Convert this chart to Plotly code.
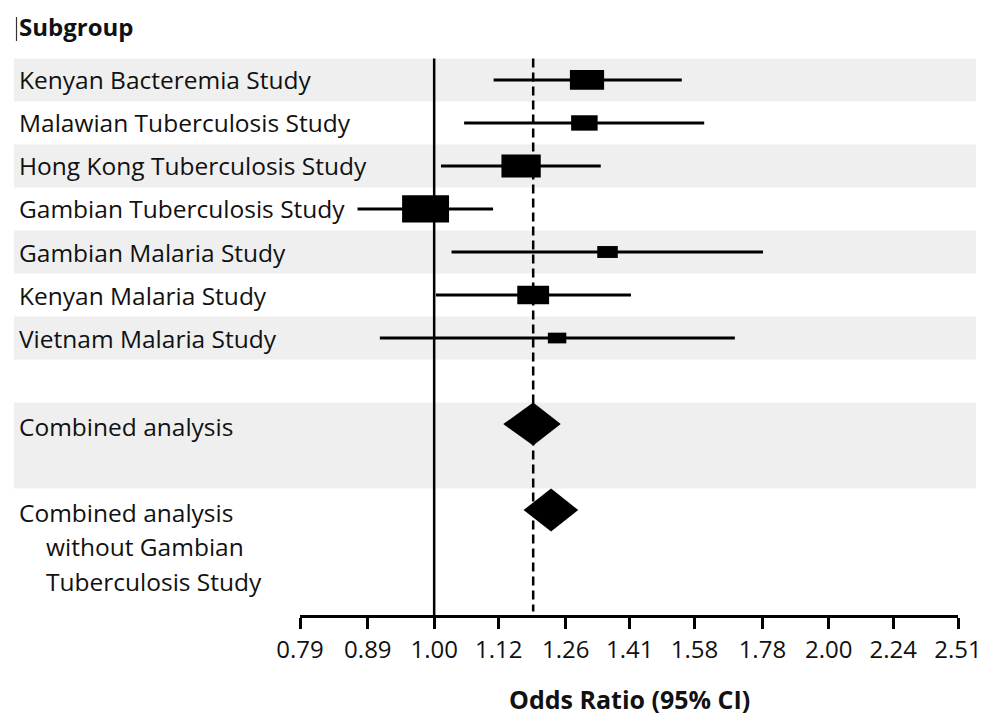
import numpy as np
import plotly.graph_objects as go

# ---------------- data ----------------
studies = [
    "Kenyan Bacteremia Study",
    "Malawian Tuberculosis Study",
    "Hong Kong Tuberculosis Study",
    "Gambian Tuberculosis Study",
    "Gambian Malaria Study",
    "Kenyan Malaria Study",
    "Vietnam Malaria Study",
]
odds_ratio = [1.308, 1.302, 1.165, 0.985, 1.356, 1.190, 1.241]
ci_low = [1.110, 1.054, 1.012, 0.874, 1.031, 1.003, 0.909]
ci_high = [1.545, 1.607, 1.340, 1.109, 1.782, 1.413, 1.696]
weights = [15.8, 9.5, 20.9, 29.8, 5.7, 13.7, 4.6]  # relative study weight (%)

pooled_labels = [
    "Combined analysis",
    "Combined analysis<br>without Gambian<br>Tuberculosis Study",
]
pooled_or = [1.190, 1.228]
pooled_low = [1.129, 1.170]
pooled_high = [1.249, 1.288]

tick_values = [0.79, 0.89, 1.00, 1.12, 1.26, 1.41, 1.58, 1.78, 2.00, 2.24, 2.51]
tick_labels = ["0.79", "0.89", "1.00", "1.12", "1.26", "1.41", "1.58", "1.78", "2.00", "2.24", "2.51"]

header = "Subgroup"
x_title = "Odds Ratio (95% CI)"

# ---------------- layout geometry (page pixels) ----------------
PAGE_W, PAGE_H = 989, 717
OFF = 8                 # default body margin of the html page
W, H = PAGE_W - OFF, PAGE_H - OFF
ROW_PX = 43.05          # pixel height of one row
FIRST_ROW_PX = 80.0     # page pixel centre of first row
AXIS_PX = 615.5         # page pixel of plot-area bottom (axis line)
X_LEFT_PX, X_RIGHT_PX = 300.0, 958.0
LABEL_X_PX = 17.0
BAND_LEFT_PX = 14.0
BAND_RIGHT_PX = 976.0
PLOT_H = AXIS_PX - OFF


def px_x(px):
    return (px - OFF) / W


def px_ypaper(py):
    return 1 - (py - OFF) / PLOT_H


x_range = [np.log10(tick_values[0]), np.log10(tick_values[-1])]
px_per_decade = (X_RIGHT_PX - X_LEFT_PX) / (x_range[1] - x_range[0])

y_top = (OFF - FIRST_ROW_PX) / ROW_PX
y_bottom = (AXIS_PX - FIRST_ROW_PX) / ROW_PX

study_y = list(range(len(studies)))
pooled_y = [len(studies) + 1, len(studies) + 3]

BLACK = "#000000"
TEXT = "#111111"
BAND = "#efefef"
SANS = "Open Sans, Noto Sans, sans-serif"
LABEL_FONT = dict(family=SANS, size=24.5, color=TEXT)

fig = go.Figure()

# reference line at OR = 1
fig.add_trace(go.Scatter(
    x=[1.0, 1.0], y=[-0.5, y_bottom], mode="lines",
    line=dict(color=BLACK, width=2.5), hoverinfo="skip", showlegend=False))

# dashed line at combined OR
fig.add_trace(go.Scatter(
    x=[pooled_or[0], pooled_or[0]], y=[-0.5, y_bottom - 0.08], mode="lines",
    line=dict(color=BLACK, width=2.5, dash="9px,5px"), hoverinfo="skip", showlegend=False))

# confidence-interval lines
cx, cy = [], []
for lo, hi, yy in zip(ci_low, ci_high, study_y):
    cx += [lo, hi, None]
    cy += [yy, yy, None]
fig.add_trace(go.Scatter(
    x=cx, y=cy, mode="lines", line=dict(color=BLACK, width=3),
    hoverinfo="skip", showlegend=False))

# weighted boxes
for orv, w, yy in zip(odds_ratio, weights, study_y):
    h_px = 5.0 * np.sqrt(w)
    w_px = 1.72 * h_px
    hh = h_px / 2 / ROW_PX
    hw = w_px / 2 / px_per_decade
    xl, xr = orv * 10 ** (-hw), orv * 10 ** hw
    fig.add_trace(go.Scatter(
        x=[xl, xr, xr, xl, xl], y=[yy - hh, yy - hh, yy + hh, yy + hh, yy - hh],
        mode="lines", fill="toself", fillcolor=BLACK, line=dict(width=0, color=BLACK),
        hoverinfo="skip", showlegend=False))

# pooled diamonds
for orv, lo, hi, yy in zip(pooled_or, pooled_low, pooled_high, pooled_y):
    dh = 21.5 / ROW_PX
    fig.add_trace(go.Scatter(
        x=[lo, orv, hi, orv, lo], y=[yy, yy - dh, yy, yy + dh, yy],
        mode="lines", fill="toself", fillcolor=BLACK, line=dict(width=0, color=BLACK),
        hoverinfo="skip", showlegend=False))

# ---------------- background bands ----------------
shapes = []
for i in study_y:
    if i % 2 == 0:
        shapes.append(dict(type="rect", xref="paper", yref="y",
                           x0=px_x(BAND_LEFT_PX), x1=px_x(BAND_RIGHT_PX),
                           y0=i - 0.5, y1=i + 0.5, fillcolor=BAND,
                           line=dict(width=0), layer="below"))
shapes.append(dict(type="rect", xref="paper", yref="y",
                   x0=px_x(BAND_LEFT_PX), x1=px_x(BAND_RIGHT_PX),
                   y0=pooled_y[0] - 0.5, y1=pooled_y[0] + 1.5, fillcolor=BAND,
                   line=dict(width=0), layer="below"))
# small caret before the header
shapes.append(dict(type="line", xref="paper", yref="paper",
                   x0=px_x(16.5), x1=px_x(16.5),
                   y0=px_ypaper(17), y1=px_ypaper(41),
                   line=dict(color="#333333", width=1.2)))

# ---------------- labels ----------------
annotations = []
annotations.append(dict(text="<b>%s</b>" % header, xref="paper", yref="y",
                        x=px_x(LABEL_X_PX), y=(27 - FIRST_ROW_PX) / ROW_PX,
                        xanchor="left", yanchor="middle", showarrow=False,
                        font=dict(family=SANS, size=24, color=TEXT)))
for name, yy in zip(studies, study_y):
    annotations.append(dict(text=name, xref="paper", yref="y", x=px_x(LABEL_X_PX), y=yy,
                            xanchor="left", yanchor="middle", showarrow=False, font=LABEL_FONT))
for name, yy in zip(pooled_labels, pooled_y):
    for k, line in enumerate(name.split("<br>")):
        annotations.append(dict(text=line, xref="paper", yref="y",
                                x=px_x(LABEL_X_PX + (27 if k else 0)),
                                y=yy + (2 + 34.5 * k) / ROW_PX,
                                xanchor="left", yanchor="middle", showarrow=False,
                                font=LABEL_FONT))
# axis title, centred under the axis
annotations.append(dict(text="<b>%s</b>" % x_title, xref="paper", yref="paper",
                        x=px_x((X_LEFT_PX + X_RIGHT_PX) / 2), y=px_ypaper(700),
                        xanchor="center", yanchor="middle", showarrow=False,
                        font=dict(family=SANS, size=25, color=TEXT)))

fig.update_layout(
    width=W, height=H,
    margin=dict(l=0, r=0, t=0, b=H - PLOT_H, pad=0, autoexpand=False),
    paper_bgcolor="white", plot_bgcolor="rgba(0,0,0,0)",
    shapes=shapes, annotations=annotations, showlegend=False,
    xaxis=dict(
        type="log", range=x_range, domain=[px_x(X_LEFT_PX), px_x(X_RIGHT_PX)],
        tickvals=tick_values, ticktext=tick_labels,
        showgrid=False, zeroline=False, showline=True, linecolor=BLACK, linewidth=3,
        ticks="outside", ticklen=11, tickwidth=3, tickcolor=BLACK,
        tickfont=dict(family=SANS, size=24, color=TEXT),
        automargin=False, fixedrange=True,
    ),
    yaxis=dict(range=[y_bottom, y_top], domain=[0, 1], visible=False, fixedrange=True,
               automargin=False),
)

fig.write_html("out.html", config={"displayModeBar": False})
